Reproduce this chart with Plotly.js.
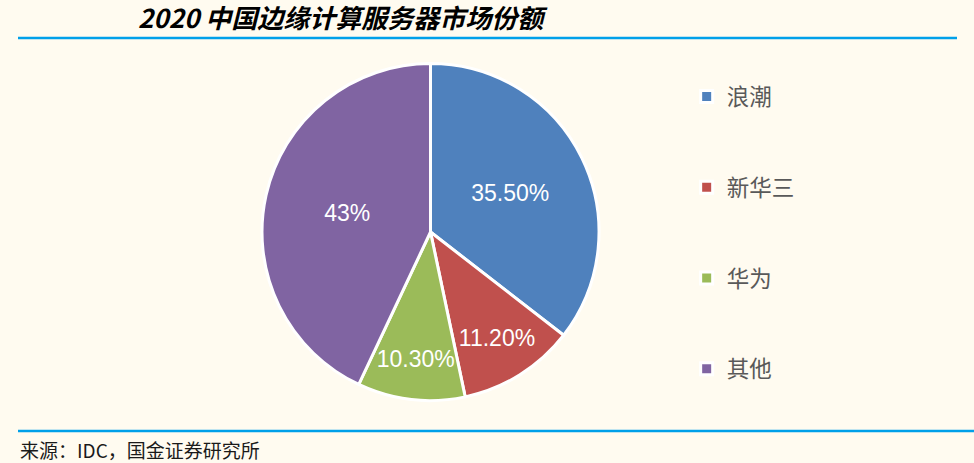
<!DOCTYPE html>
<html>
<head>
<meta charset="utf-8">
<script src="https://cdn.plot.ly/plotly-3.0.1.min.js"></script>
<style>
html,body{margin:0;padding:0;background:#FFFBF0;}
#chart{width:974px;height:463px;}
</style>
</head>
<body>
<div id="chart"></div>
<script>
// ---- data ----
var categories = ['浪潮', '新华三', '华为', '其他'];
var shares = [35.5, 11.2, 10.3, 43];
var shareLabels = ['35.50%', '11.20%', '10.30%', '43%'];
var sliceColors = ['#4F81BD', '#C0504D', '#9BBB59', '#8064A2'];

var titleText = '2020 中国边缘计算服务器市场份额';
var sourceText = '来源：IDC，国金证券研究所';

// legend labels padded with blank lines to space the entries
var legendLabels = categories.map(function (c) { return '\u00a0<br>' + c + '<br>\u00a0'; });

var trace = {
  type: 'pie',
  labels: legendLabels,
  values: shares,
  text: shareLabels,
  textinfo: 'text',
  textposition: 'inside',
  insidetextorientation: 'horizontal',
  sort: false,
  direction: 'clockwise',
  rotation: 0,
  marker: { colors: sliceColors, line: { color: '#FFFFFF', width: 3 } },
  textfont: { family: 'Liberation Sans, Arial, sans-serif', size: 23, color: '#FFFFFF' },
  domain: { x: [262 / 974, 599 / 974], y: [1 - 401 / 463, 1 - 63 / 463] },
  hoverinfo: 'none'
};

var layout = {
  width: 974,
  height: 463,
  margin: { l: 0, r: 0, t: 0, b: 0 },
  paper_bgcolor: '#FFFBF0',
  plot_bgcolor: '#FFFBF0',
  showlegend: true,
  uniformtext: { minsize: 23, mode: 'show' },
  title: {
    text: '<b><i>' + titleText + '</i></b>',
    font: { family: 'Noto Sans CJK SC, sans-serif', size: 26, color: '#000000' },
    x: 138 / 974, xanchor: 'left', xref: 'paper',
    y: 1 - 19 / 463, yanchor: 'middle', yref: 'container'
  },
  legend: {
    x: 0.705, xanchor: 'left',
    y: 1 - 46 / 463, yanchor: 'top',
    bgcolor: 'rgba(0,0,0,0)',
    font: { family: 'Noto Sans CJK SC, sans-serif', size: 22.5, color: '#595959' },
    itemclick: false
  },
  shapes: [
    { type: 'line', xref: 'paper', yref: 'paper', x0: 18 / 974, x1: 957 / 974,
      y0: 1 - 38 / 463, y1: 1 - 38 / 463, line: { color: '#00A0E9', width: 2.5 } },
    { type: 'line', xref: 'paper', yref: 'paper', x0: 18 / 974, x1: 1,
      y0: 1 - 431 / 463, y1: 1 - 431 / 463, line: { color: '#00A0E9', width: 2.5 } }
  ],
  annotations: [
    { text: sourceText, xref: 'paper', yref: 'paper', x: 18 / 974, xanchor: 'left',
      y: 1 - 449 / 463, yanchor: 'middle', showarrow: false,
      font: { family: 'Noto Sans CJK SC, sans-serif', size: 19, color: '#1a1a1a' } }
  ]
};

Plotly.newPlot('chart', [trace], layout, { displayModeBar: false, staticPlot: true });
</script>
</body>
</html>
